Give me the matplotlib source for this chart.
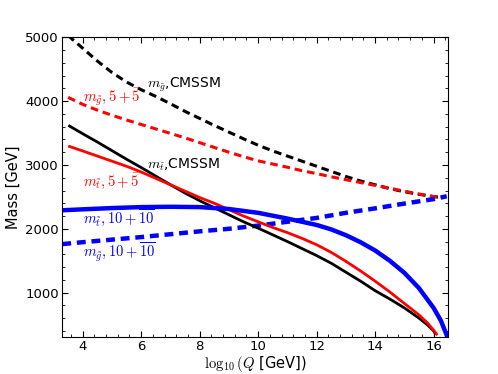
import matplotlib.pyplot as plt
from matplotlib.ticker import AutoMinorLocator

plt.rcParams['mathtext.fontset'] = 'cm'
plt.rcParams['font.family'] = 'DejaVu Sans'

# gluino mass, CMSSM
x_gl_cmssm = [3.5, 4.0, 4.5, 5.0, 5.5, 6.0, 6.5, 7.0, 7.5, 8.0, 8.5, 9.0, 9.5, 10.0, 10.5,
              11.0, 11.5, 12.0, 12.5, 13.0, 13.5, 14.0, 14.5, 15.0, 15.5, 16.0, 16.2]
m_gl_cmssm = [5030, 4830, 4630, 4450, 4300, 4180, 4075, 3960, 3840, 3730, 3620, 3515, 3410, 3310, 3220,
              3140, 3060, 2980, 2900, 2820, 2750, 2690, 2630, 2580, 2540, 2505, 2495]

# gluino mass, 5+5bar
x_gl_5 = [3.5, 4.0, 4.5, 5.0, 5.5, 6.0, 6.5, 7.0, 7.5, 8.0, 8.5, 9.0, 9.5, 10.0, 10.5,
          11.0, 11.5, 12.0, 12.5, 13.0, 13.5, 14.0, 14.5, 15.0, 15.5, 16.0, 16.2]
m_gl_5 = [4060, 3950, 3860, 3780, 3705, 3635, 3565, 3495, 3425, 3350, 3275, 3200, 3130, 3065, 3015,
          2965, 2910, 2865, 2815, 2770, 2725, 2680, 2635, 2590, 2545, 2505, 2490]

# gluino mass, 10+10bar
x_gl_10 = [3.3, 4.0, 5.0, 6.0, 7.0, 8.0, 9.0, 10.0, 11.0, 12.0, 13.0, 14.0, 15.0, 16.0, 16.45]
m_gl_10 = [1760, 1790, 1830, 1870, 1915, 1960, 2000, 2050, 2110, 2170, 2250, 2320, 2395, 2465, 2510]

# stop mass, CMSSM
x_st_cmssm = [3.55, 4.0, 4.5, 5.0, 5.5, 6.0, 6.5, 7.0, 7.5, 8.0, 8.5, 9.0, 9.5, 10.0, 10.5,
              11.0, 11.5, 12.0, 12.5, 13.0, 13.5, 14.0, 14.5, 15.0, 15.5, 15.8, 16.0, 16.05]
m_st_cmssm = [3610, 3490, 3360, 3225, 3090, 2960, 2825, 2690, 2560, 2440, 2330, 2220, 2110, 2010, 1905,
              1800, 1690, 1580, 1460, 1320, 1180, 1030, 900, 760, 600, 490, 400, 360]

# stop mass, 5+5bar
x_st_5 = [3.55, 4.0, 4.5, 5.0, 5.5, 6.0, 6.5, 7.0, 7.5, 8.0, 8.5, 9.0, 9.5, 10.0, 10.5,
          11.0, 11.5, 12.0, 12.5, 13.0, 13.5, 14.0, 14.5, 15.0, 15.5, 15.8, 16.0, 16.1]
m_st_5 = [3290, 3220, 3140, 3060, 2980, 2890, 2790, 2690, 2590, 2490, 2400, 2300, 2200, 2110, 2020,
          1940, 1850, 1750, 1630, 1490, 1340, 1180, 1010, 830, 650, 520, 410, 350]

# stop mass, 10+10bar
x_st_10 = [3.3, 4.0, 5.0, 6.0, 7.0, 8.0, 9.0, 10.0, 11.0, 12.0, 12.5, 13.0, 13.5, 14.0, 14.5,
           15.0, 15.5, 16.0, 16.25, 16.45]
m_st_10 = [2290, 2305, 2325, 2340, 2345, 2340, 2310, 2250, 2160, 2060, 1990, 1900, 1790, 1660, 1500,
           1310, 1070, 760, 560, 330]

fig, ax = plt.subplots(figsize=(4.98, 3.74), dpi=100)
fig.subplots_adjust(left=0.125, right=0.9, bottom=0.1, top=0.9)

ax.plot(x_gl_cmssm, m_gl_cmssm, color='black', lw=2.2, dashes=(2.5, 1.6))
ax.plot(x_gl_5, m_gl_5, color='red', lw=2.2, dashes=(2.5, 1.6))
ax.plot(x_gl_10, m_gl_10, color='blue', lw=3.2, dashes=(2.0, 1.3))
ax.plot(x_st_cmssm, m_st_cmssm, color='black', lw=2.0)
ax.plot(x_st_5, m_st_5, color='red', lw=2.0)
ax.plot(x_st_10, m_st_10, color='blue', lw=3.2)

# curve labels
fs = 10
ax.text(6.2, 4260, r'$m_{\tilde{g}}$,CMSSM', color='black', fontsize=fs, va='center')
ax.text(4.0, 4060, r'$m_{\tilde{g}}, 5+\bar{5}$', color='red', fontsize=fs + 0.5, va='center')
ax.text(6.2, 3010, r'$m_{\tilde{t}}$,CMSSM', color='black', fontsize=fs, va='center')
ax.text(4.0, 2745, r'$m_{\tilde{t}}, 5+\bar{5}$', color='red', fontsize=fs + 0.5, va='center')
ax.text(4.0, 2170, r'$m_{\tilde{t}}, 10+\overline{10}$', color='blue', fontsize=fs + 0.5, va='center')
ax.text(4.0, 1640, r'$m_{\tilde{g}}, 10+\overline{10}$', color='blue', fontsize=fs + 0.5, va='center')

ax.set_xlim(3.3, 16.5)
ax.set_ylim(310, 5000)
ax.set_xticks([4, 6, 8, 10, 12, 14, 16])
ax.set_yticks([1000, 2000, 3000, 4000, 5000])
ax.xaxis.set_minor_locator(AutoMinorLocator(5))
ax.yaxis.set_minor_locator(AutoMinorLocator(5))
ax.tick_params(which='both', direction='in', top=True, right=True, labelsize=9.5, pad=2.5)
ax.tick_params(which='major', length=4.5, width=0.8)
ax.tick_params(which='minor', length=2.2, width=0.6)

ax.set_xlabel(r'$\log_{10}(Q$ [GeV])', fontsize=10.5, labelpad=1)
ax.set_ylabel('Mass [GeV]', fontsize=10.5, labelpad=3)

plt.savefig('out.png')
